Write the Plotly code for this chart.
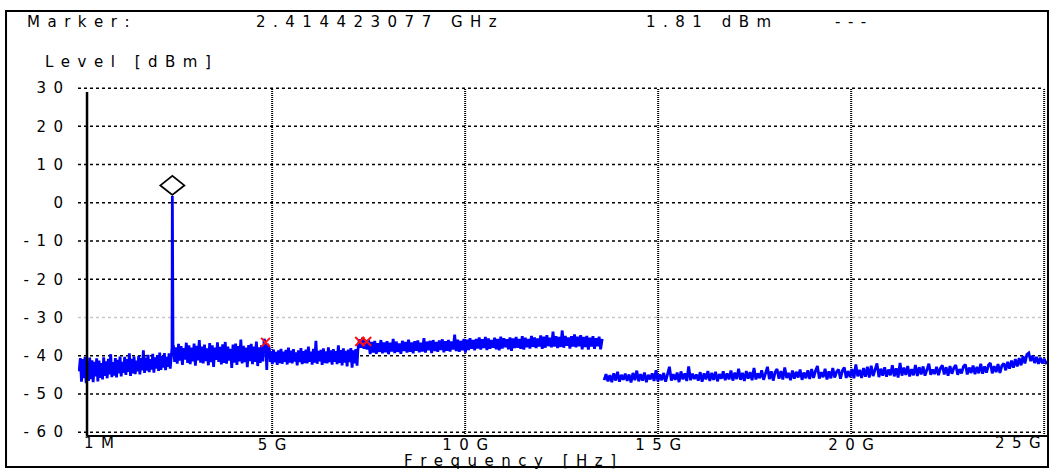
import numpy as np
import plotly.graph_objects as go

# ---- marker readout ----
MARKER_F = 2.414423077e9
MARKER_DBM = 1.81

# ---- sweep data (dBm), one list per sweep band ----
BAND_A_F = (0.0, 2.39e9)
BAND_A_DBM = [
    -44.1, -40.6, -46.8, -40.9, -45.9, -40.3, -47.2, -41.4, -46.6, -40.5,
    -46.1, -41.2, -46.9, -41.6, -45.4, -40.7, -46.7, -41.3, -45.8, -41.9,
    -46.2, -40.4, -45.3, -41.5, -45.9, -40.8, -44.9, -39.6, -45.6, -41.7,
    -45.2, -40.6, -45.7, -41.1, -44.6, -40.2, -45.4, -41.6, -44.5, -40.3,
    -45.0, -40.9, -44.2, -39.4, -45.3, -40.8, -44.6, -40.2, -44.8, -41.3,
    -44.1, -40.0, -44.9, -40.6, -43.8, -38.6, -44.5, -40.5, -43.9, -39.8,
    -44.3, -40.9, -43.6, -39.5, -44.4, -40.4, -43.4, -39.9, -44.0, -39.2,
    -43.7, -40.1, -43.1, -39.3, -43.8, -40.3, -42.9, -39.4, -43.4, -39.8,
]

CARRIER_F = [2.398e9, 2.406e9, MARKER_F, 2.422e9, 2.432e9]
CARRIER_DBM = [-40.1, -37.9, MARKER_DBM, -35.3, -38.8]

BAND_C_F = (2.44e9, 4.76e9)
BAND_C_DBM = [
    -37.2, -41.6, -37.8, -42.1, -36.9, -41.3, -37.5, -42.4, -38.0, -41.0,
    -36.6, -41.9, -37.3, -42.2, -37.9, -41.5, -36.8, -42.6, -37.4, -41.2,
    -35.9, -41.8, -37.6, -42.0, -37.1, -41.4, -38.1, -42.5, -36.7, -41.7,
    -37.3, -42.9, -37.9, -41.1, -36.5, -41.6, -37.7, -42.3, -37.0, -41.9,
    -36.4, -42.1, -37.6, -41.3, -38.2, -43.2, -37.1, -41.8, -36.8, -42.4,
    -37.5, -41.5, -35.8, -42.0, -37.4, -41.7, -37.9, -43.0, -37.2, -41.4,
    -36.9, -42.2, -37.6, -41.6, -36.3, -42.7, -37.8, -41.9, -37.2, -41.5,
]

BAND_D_F = (4.77e9, 4.95e9)
BAND_D_DBM = [-37.8, -35.6, -36.4, -37.1, -43.7, -36.9, -37.5, -38.2, -41.6]

BAND_E_F = (4.97e9, 7.2e9)
BAND_E_DBM = [
    -38.8, -42.2, -38.4, -41.7, -39.0, -42.4, -38.6, -41.9, -38.2, -42.1,
    -38.9, -41.6, -38.5, -42.3, -37.9, -41.8, -38.7, -42.0, -38.3, -41.5,
    -39.1, -42.5, -38.6, -41.7, -38.0, -42.2, -38.8, -41.9, -38.4, -42.0,
    -37.6, -41.6, -38.9, -42.3, -38.2, -41.8, -36.1, -42.1, -38.7, -41.5,
    -38.5, -42.4, -38.1, -41.9, -38.9, -42.0, -37.8, -41.7, -38.6, -42.3,
    -38.3, -41.6, -38.8, -42.2, -37.3, -41.9, -38.5, -42.5, -38.1, -41.8,
    -38.7, -42.8, -38.4, -41.7, -38.0, -43.1, -38.6, -42.0, -38.3, -42.6,
]

BAND_F_F = (7.22e9, 13.55e9)
BAND_F_DBM = [
    -38.6, -35.7, -37.9, -35.3, -38.2, -36.0, -38.4, -35.8,
    -39.6, -36.4, -39.2, -36.1, -39.5, -36.7, -39.0, -35.9, -39.4, -36.5,
    -39.1, -36.2, -39.6, -36.6, -38.9, -35.6, -39.3, -36.3, -39.0, -36.8,
    -39.5, -36.1, -38.8, -36.4, -39.2, -35.8, -39.0, -36.5, -39.4, -36.2,
    -38.7, -36.0, -39.1, -36.6, -38.9, -35.4, -39.2, -36.3, -38.6, -36.1,
    -39.3, -35.9, -38.8, -36.4, -39.0, -36.0, -38.5, -35.7, -39.1, -36.2,
    -38.7, -35.9, -38.9, -36.3, -38.4, -34.5, -38.8, -35.8, -39.0, -36.1,
    -38.6, -35.6, -39.2,
    -35.8, -38.5, -35.4, -38.2, -35.9, -38.6, -35.6, -38.1, -35.2, -38.4,
    -35.7, -38.0, -35.1, -38.5, -35.5, -38.2, -35.9, -37.9, -35.3, -38.3,
    -35.6, -38.6, -35.0, -38.1, -35.4, -37.8, -35.7, -38.3, -35.2, -38.7,
    -35.5, -38.0, -35.1, -37.9, -35.6, -38.2, -34.9, -38.4, -35.3, -37.8,
    -35.6, -38.1, -34.8, -37.7, -35.2, -38.0, -35.5, -37.6, -34.7, -38.2,
    -35.0, -37.9, -34.6, -37.5, -35.3, -37.8, -33.7, -37.6, -34.9, -38.0,
    -35.1, -37.7, -33.4, -37.9, -34.8, -37.4, -35.2, -38.1, -34.9, -37.6,
    -34.4, -37.8, -35.0, -37.5, -34.6, -38.3, -35.1, -37.7, -34.8, -38.4,
    -35.3, -37.6, -34.9, -38.2, -35.4, -37.5, -35.0, -38.3, -35.6,
]

BAND_H_F = (13.6e9, 25.1e9)
BAND_H_DBM = [
    -46.4, -44.8, -46.7, -45.1, -46.9, -44.6, -46.5, -44.2, -46.8, -45.0,
    -46.3, -44.7, -46.6, -44.9, -47.0, -44.5, -46.4, -43.9, -46.7, -44.8,
    -46.5, -44.4, -46.9, -45.0, -46.2, -44.6, -46.6, -43.8,
    -46.7, -44.9, -46.4, -44.5, -46.8, -44.7, -42.9, -46.5, -44.8, -46.3,
    -44.4, -46.9, -44.1, -46.2, -44.6, -46.6, -42.8, -46.4, -44.7, -46.1,
    -44.9, -46.5, -44.3, -46.8, -44.6, -46.2, -44.0, -46.6, -44.5, -46.3,
    -44.2, -46.7, -44.8, -46.0, -44.1, -46.4, -44.6, -46.2, -43.9, -46.5,
    -44.4, -46.1, -43.4, -46.3, -44.5, -46.6, -44.0, -46.0, -44.3, -46.4,
    -43.2, -46.2, -44.6, -45.9, -43.8, -46.3, -44.4, -42.9, -46.1, -44.1,
    -46.5, -44.3, -43.5, -46.0, -44.0, -46.2, -43.1, -45.8, -44.5, -46.4,
    -43.9, -46.0, -44.2, -45.7, -43.6, -46.3, -44.4, -45.9, -43.8, -46.1,
    -43.5, -45.8, -44.0, -42.7, -46.0, -44.3, -45.6, -43.4, -46.2, -44.1,
    -45.9, -43.2, -45.7, -44.2, -43.6, -46.0, -43.9, -43.1, -45.8, -44.0,
    -45.6, -43.5, -45.9, -42.3, -45.4, -43.7, -45.8, -43.2, -45.5, -42.9,
    -45.7, -42.6, -45.3, -43.8, -42.0, -45.6, -43.4, -45.2, -43.0, -45.5,
    -43.6, -45.1, -42.5, -45.4, -43.3, -45.7, -41.9, -45.2, -43.1, -45.0,
    -42.7, -45.4, -43.5, -45.1, -42.4, -45.3, -43.0, -44.9, -42.8, -45.2,
    -43.4, -42.1, -45.0, -43.6, -44.8, -42.9, -45.1, -43.3, -42.5, -44.9,
    -43.0, -45.2, -42.7, -44.7, -43.2, -42.4, -45.0, -43.5, -44.6, -42.8,
    -42.3, -44.9, -43.1, -44.5, -42.6, -44.8, -42.9, -44.6, -42.1, -44.7,
    -42.8, -44.4, -42.5, -41.9, -44.6, -42.7, -44.3, -42.2, -44.5, -42.6,
    -42.0, -43.8, -41.6, -43.4, -41.3, -43.1, -40.9, -42.8, -40.6, -42.5,
    -40.1, -42.0, -39.7, -39.3, -41.4, -40.0, -41.9, -40.3, -42.1, -40.5,
    -42.0, -40.8, -41.9, -41.7,
]

# spurious peaks flagged by the analyzer
SPUR_F = [4.83e9, 7.27e9, 7.45e9]
SPUR_DBM = [-36.5, -36.3, -36.3]

# ---- axes ----
X_RANGE = [-0.03e9, 25.1e9]
Y_RANGE = [-61, 30.3]
X_TICKS = [0, 5e9, 10e9, 15e9, 20e9, 25e9]
X_TICK_TEXT = ["1M", "5G", "10G", "15G", "20G", "25G"]
Y_TICKS = [30, 20, 10, 0, -10, -20, -30, -40, -50, -60]

FONT = "DejaVu Sans"
FONT_SIZE = 15
SEP = "\u2002"


def spaced(s):
    """Wide letter spacing, like the analyzer's screen font."""
    return SEP.join(s)


def band(rng, levels):
    f = np.linspace(rng[0], rng[1], len(levels))
    return list(f), list(levels)


xs, ys = [], []
f, l = band(BAND_A_F, BAND_A_DBM)
xs += f
ys += l
xs += CARRIER_F
ys += CARRIER_DBM
for rng, lv in [(BAND_C_F, BAND_C_DBM), (BAND_D_F, BAND_D_DBM),
                (BAND_E_F, BAND_E_DBM), (BAND_F_F, BAND_F_DBM)]:
    f, l = band(rng, lv)
    xs += f
    ys += l
# the high band is a separate sweep segment
xs.append(None)
ys.append(None)
f, l = band(BAND_H_F, BAND_H_DBM)
xs += f
ys += l

fig = go.Figure()

# grid
shapes = []
for v in Y_TICKS:
    shapes.append(dict(type="line", xref="x", yref="y",
                       x0=X_RANGE[0], x1=X_TICKS[-1], y0=v, y1=v,
                       line=dict(color="#c8c8c8" if v == -30 else "black",
                                 width=1.5, dash="dot"), layer="below"))
for v in X_TICKS[1:]:
    shapes.append(dict(type="line", xref="x", yref="y",
                       x0=v, x1=v, y0=Y_RANGE[0], y1=Y_TICKS[0],
                       line=dict(color="black", width=2, dash="1px,1px"),
                       layer="below"))
# axis lines
shapes.append(dict(type="line", xref="paper", yref="paper",
                   x0=0.0093, x1=0.0093, y0=0, y1=0.986,
                   line=dict(color="black", width=2.5)))
shapes.append(dict(type="line", xref="paper", yref="paper",
                   x0=0.0093, x1=1, y0=0, y1=0,
                   line=dict(color="black", width=2)))
# outer frame
shapes.append(dict(type="rect", xref="paper", yref="paper",
                   x0=-0.0742, x1=1.0, y0=-0.0888, y1=1.2178,
                   line=dict(color="black", width=2)))
# marker diamond sitting on the carrier peak
shapes.append(dict(type="path", xref="x", yref="y",
                   xsizemode="pixel", ysizemode="pixel",
                   xanchor=MARKER_F, yanchor=MARKER_DBM,
                   path="M 0 1 L 12 10.5 L 0 20 L -12 10.5 Z",
                   fillcolor="white", line=dict(color="black", width=1.8)))

fig.add_trace(go.Scatter(
    x=xs, y=ys, mode="lines", connectgaps=False,
    line=dict(color="#0000FF", width=2.8), hoverinfo="skip",
    showlegend=False))

fig.add_trace(go.Scatter(
    x=SPUR_F, y=SPUR_DBM, mode="markers",
    marker=dict(symbol="x-thin", size=9,
                line=dict(color="#FF1010", width=2)),
    showlegend=False, hoverinfo="skip"))

txt_font = dict(family=FONT, size=FONT_SIZE, color="black")

# the end labels are kept inside the frame: start label right of the origin,
# stop label left-aligned against the right edge
tick_text = [spaced(t) for t in X_TICK_TEXT]
start_label, stop_label = tick_text[0], tick_text[-1]
tick_text[0] = ""
tick_text[-1] = ""

annotations = [
    dict(text=spaced("Marker:"), x=-0.0546, y=1.186),
    dict(text=spaced(f"{MARKER_F / 1e9:.9f} GHz"), x=0.1814, y=1.186),
    dict(text=spaced(f"{MARKER_DBM:.2f} dBm"), x=0.5835, y=1.186),
    dict(text=spaced("---"), x=0.778, y=1.186),
    dict(text=spaced("Level [dBm]"), x=-0.0361, y=1.0716),
]
for a in annotations:
    a.update(xref="paper", yref="paper", xanchor="left", yanchor="middle",
             showarrow=False, font=txt_font)
annotations.append(dict(text=start_label, xref="x", yref="paper",
                        x=X_TICKS[0], y=-0.019, xanchor="left",
                        yanchor="middle", xshift=3, showarrow=False,
                        font=txt_font))
annotations.append(dict(text=stop_label, xref="x", yref="paper",
                        x=X_TICKS[-1], y=-0.019, xanchor="right",
                        yanchor="middle", xshift=-1, showarrow=False,
                        font=txt_font))
annotations.append(dict(text=spaced("Frequency [Hz]"), xref="paper",
                        yref="paper", x=0.4454, y=-0.0716, xanchor="center",
                        yanchor="middle", showarrow=False, font=txt_font))

fig.update_layout(
    width=1053, height=472,
    margin=dict(l=78, r=5, t=87, b=36),
    paper_bgcolor="white", plot_bgcolor="white",
    font=txt_font,
    shapes=shapes, annotations=annotations,
    xaxis=dict(range=X_RANGE, tickvals=X_TICKS, ticktext=tick_text,
               showgrid=False, zeroline=False, showline=False, ticks="",
               ticklabelstandoff=-2, automargin=False),
    yaxis=dict(range=Y_RANGE, tickvals=Y_TICKS,
               ticktext=[spaced(str(v)) for v in Y_TICKS],
               showgrid=False, zeroline=False, showline=False, ticks="",
               ticklabelstandoff=14, automargin=False),
)

fig.write_html("out.html")
